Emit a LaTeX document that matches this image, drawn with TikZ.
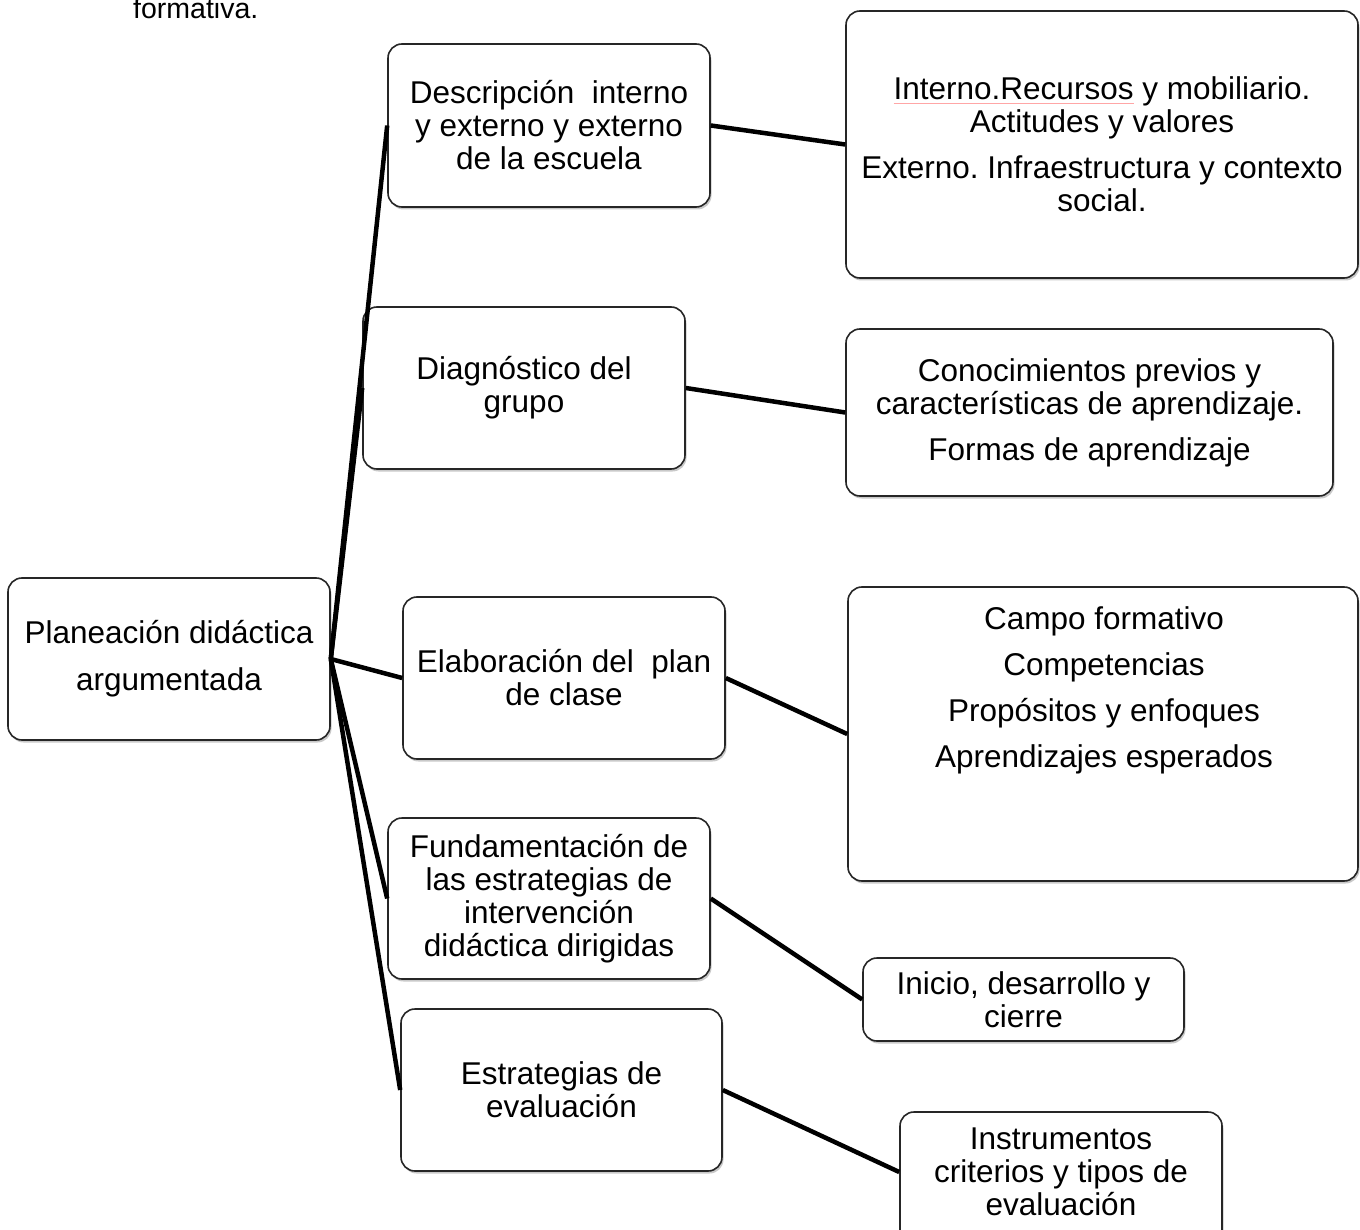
\documentclass[tikz,border=0pt]{standalone}
\usepackage{fontspec}
\setmainfont{Liberation Sans}
\usetikzlibrary{shadows}
\newcommand\fsz{\frenchspacing\fontsize{31.5}{33}\selectfont}
\newsavebox\sqbox
\newcommand\squig[1]{\sbox\sqbox{#1}\rlap{\color{red!35}\rule[-4pt]{\wd\sqbox}{1.2pt}}\usebox\sqbox}
\begin{document}
\begin{tikzpicture}[x=1pt,y=-1pt,
  box/.style={draw=black!85, line width=1.6pt, rounded corners=14pt, fill=white,
    drop shadow={shadow xshift=1.5pt, shadow yshift=-2.5pt, opacity=.3, fill=black!70},
    inner sep=0pt, align=center, font=\fsz},
  txt/.style={inner sep=0pt, align=center, font=\fsz},
  conn/.style={line width=4.5pt, black}]
\useasboundingbox (0,0) rectangle (1360,1230);
\clip (0,0) rectangle (1360,1230);
\node[inner sep=0pt, anchor=base west, font=\fontsize{28.5}{33}\selectfont] (frag) at (133,19) {formativa.};
% root
\node[box, minimum width=322pt, minimum height=162pt] (root) at (169,659)
  {Planeación didáctica\\[14pt] argumentada};
% middle column
\node[box, minimum width=322pt, minimum height=163pt] (desc) at (549,125.5)
  {Descripción\ \ interno\\ y externo y externo\\ de la escuela};
\node[box, minimum width=322pt, minimum height=162pt] (diag) at (524,388)
  {Diagnóstico del\\ grupo};
\node[box, minimum width=322pt, minimum height=162pt] (elab) at (564,678)
  {Elaboración del\ \ plan\\ de clase};
\node[box, minimum width=322pt, minimum height=161pt] (fund) at (549,898.5)
  {Fundamentación de\\ las estrategias de\\ intervención\\ didáctica dirigidas};
\node[box, minimum width=321pt, minimum height=162pt] (estr) at (561.5,1090)
  {Estrategias de\\ evaluación};
% right column
\node[box, minimum width=512pt, minimum height=267pt] (interno) at (1102,144.5)
  {\squig{Interno.Recursos} y mobiliario.\\ Actitudes y valores\\[13pt] Externo. Infraestructura y contexto\\ social.};
\node[box, minimum width=487pt, minimum height=167pt] (conoc) at (1089.5,412.5)
  {Conocimientos previos y\\ características de aprendizaje.\\[13pt] Formas de aprendizaje};
\node[box, minimum width=510pt, minimum height=294pt] (campo) at (1103,734) {};
\node[txt] (campotxt) at (1104,690)
  {Campo formativo\\[13pt] Competencias\\[13pt] Propósitos y enfoques\\[13pt] Aprendizajes esperados};
\node[box, minimum width=321pt, minimum height=83pt] (inicio) at (1023.5,999.5)
  {Inicio, desarrollo y\\ cierre};
\node[box, minimum width=322pt, minimum height=160pt] (instr) at (1061,1192) {};
\node[txt] (instrtxt) at (1061,1172)
  {Instrumentos\\ criterios y tipos de\\ evaluación};
% connectors
\draw[conn] (root.east) -- (desc.west);
\draw[conn] (root.east) -- (diag.west);
\draw[conn] (root.east) -- (elab.west);
\draw[conn] (root.east) -- (fund.west);
\draw[conn] (root.east) -- (estr.west);
\draw[conn] (desc.east) -- (interno.west);
\draw[conn] (diag.east) -- (conoc.west);
\draw[conn] (elab.east) -- (campo.west);
\draw[conn] (fund.east) -- (inicio.west);
\draw[conn] (estr.east) -- (instr.west |- instrtxt.center);
\end{tikzpicture}
\end{document}
